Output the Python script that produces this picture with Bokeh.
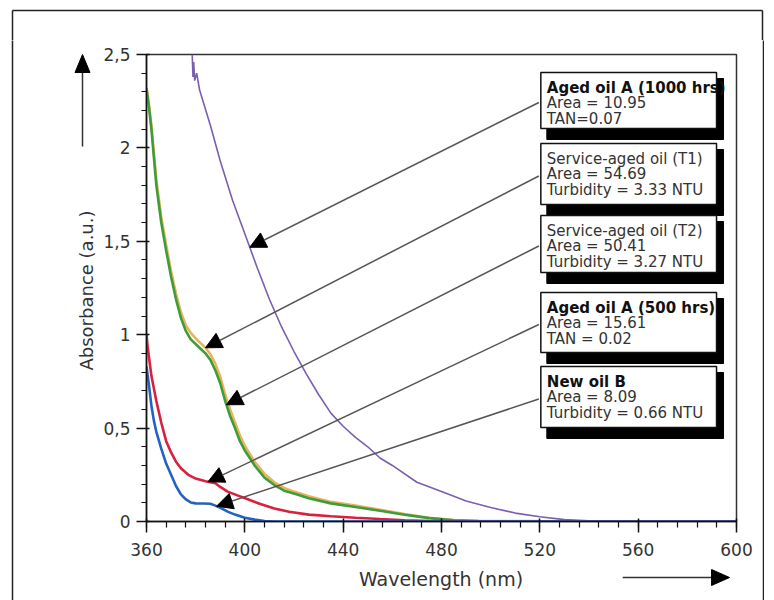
from bokeh.plotting import figure
from bokeh.layouts import row, column
from bokeh.models import FixedTicker, Arrow, NormalHead, Label, Range1d
from bokeh.embed import file_html
from bokeh.resources import INLINE
import numpy as np
import math

# ---------------- data ----------------
wl_aged_1000 = [378.6, 378.9, 379.2, 379.6, 380.4, 381.6, 383, 386, 390, 395, 400, 405, 410, 415, 420,
                425, 430, 435, 440, 445, 450, 455, 460, 470, 480, 490, 500, 510, 520, 530,
                540, 560, 580, 600]
abs_aged_1000 = [2.50, 2.38, 2.46, 2.36, 2.40, 2.31, 2.25, 2.12, 1.93, 1.72, 1.54, 1.36, 1.19, 1.04, 0.91,
                 0.79, 0.68, 0.58, 0.51, 0.45, 0.40, 0.34, 0.30, 0.21, 0.16, 0.11, 0.075, 0.045, 0.025, 0.01,
                 0.004, 0.002, 0.001, 0.0]

wl_service = [360, 361, 362, 364, 366, 368, 370, 372, 374, 376, 378, 380, 382, 384, 386, 388, 390,
              392, 394, 396, 398, 400, 404, 408, 412, 416, 420, 426, 435, 445, 455, 465, 475, 485,
              495, 520, 560, 600]
abs_service_t1 = [2.32, 2.23, 2.12, 1.83, 1.63, 1.48, 1.34, 1.22, 1.12, 1.05, 1.01, 0.98, 0.955, 0.93,
                  0.895, 0.845, 0.775, 0.68, 0.60, 0.53, 0.46, 0.405, 0.32, 0.255, 0.21, 0.18, 0.16, 0.135,
                  0.105, 0.085, 0.063, 0.04, 0.02, 0.008, 0.003, 0.002, 0.001, 0.0]
abs_service_t2 = [2.32, 2.22, 2.10, 1.80, 1.60, 1.45, 1.31, 1.19, 1.09, 1.02, 0.975, 0.95, 0.925, 0.90,
                  0.865, 0.81, 0.74, 0.645, 0.565, 0.50, 0.43, 0.38, 0.30, 0.235, 0.195, 0.165, 0.15, 0.125,
                  0.097, 0.078, 0.058, 0.036, 0.018, 0.006, 0.002, 0.001, 0.0, 0.0]

wl_aged_500 = [360, 360.5, 361, 362, 364, 366, 367, 368, 370, 372, 374, 377, 380, 384, 388, 390, 393,
               397, 401.5, 406, 412, 418, 426, 435, 445, 455, 465, 475, 485, 520, 600]
abs_aged_500 = [1.0, 0.93, 0.88, 0.78, 0.645, 0.53, 0.48, 0.43, 0.37, 0.32, 0.285, 0.25, 0.23, 0.215,
                0.205, 0.185, 0.16, 0.14, 0.118, 0.095, 0.07, 0.052, 0.037, 0.028, 0.02, 0.013, 0.007,
                0.003, 0.001, 0.0, 0.0]

wl_new_b = [360, 360.5, 361, 362, 363, 364, 366, 368, 370, 372, 374, 376, 378, 380, 383, 386, 388,
            390.5, 393, 396, 400, 404, 408, 412, 600]
abs_new_b = [0.83, 0.78, 0.73, 0.62, 0.54, 0.48, 0.39, 0.31, 0.25, 0.19, 0.145, 0.118, 0.102, 0.097,
             0.096, 0.095, 0.085, 0.07, 0.053, 0.037, 0.02, 0.01, 0.003, 0.0, 0.0]

x_ticks = [360, 400, 440, 480, 520, 560, 600]
x_tick_labels = ["360", "400", "440", "480", "520", "560", "600"]
y_ticks = [0, 0.5, 1, 1.5, 2, 2.5]
y_tick_labels = ["0", "0,5", "1", "1,5", "2", "2,5"]

x_title = "Wavelength (nm)"
y_title = "Absorbance (a.u.)"

box_title = ["Aged oil A (1000 hrs)", "Service-aged oil (T1)", "Service-aged oil (T2)",
             "Aged oil A (500 hrs)", "New oil B"]
box_line2 = ["Area = 10.95", "Area = 54.69", "Area = 50.41", "Area = 15.61", "Area = 8.09"]
box_line3 = ["TAN=0.07", "Turbidity = 3.33 NTU", "Turbidity = 3.27 NTU", "TAN = 0.02",
             "Turbidity = 0.66 NTU"]
box_bold = [True, False, False, True, True]
arrow_wl = [402, 384, 392.5, 385, 388.5]   # where each callout arrow meets its curve

# ---------------- layout (absolute page pixels) ----------------
W, H = 774, 600
LEFT_W, RIGHT_W, TOP_H, BOT_H = 100, 12, 40, 35
MID_W = W - LEFT_W - RIGHT_W          # 662
MID_H = H - TOP_H - BOT_H             # 525
FL, FR, FT, FB = 145, 736, 54, 521    # plot frame on the page
X0, X1, Y0, Y1 = 360, 600, 0, 2.5
FONT = "DejaVu Sans"
FRAME_C = "#222222"


def px2x(px):
    return X0 + (px - FL) * (X1 - X0) / (FR - FL)


def px2y(py):
    return Y1 - (py - FT) * (Y1 - Y0) / (FB - FT)


def strip(w, h, xa, xb, ya, yb):
    """Decoration canvas whose frame maps page pixels xa..xb, ya..yb (y downward)."""
    f = figure(width=w, height=h, output_backend="svg", toolbar_location=None,
               x_range=Range1d(xa, xb), y_range=Range1d(yb, ya),
               x_axis_location=None, y_axis_location=None, min_border=0)
    f.grid.visible = False
    f.outline_line_color = None
    f.background_fill_color = "white"
    f.border_fill_color = "white"
    return f


# ---------------- main plot ----------------
p = figure(width=MID_W, height=MID_H, output_backend="svg", toolbar_location=None,
           x_range=Range1d(X0, X1), y_range=Range1d(Y0, Y1),
           min_border_left=FL - LEFT_W, min_border_right=LEFT_W + MID_W - FR,
           min_border_top=FT - TOP_H, min_border_bottom=TOP_H + MID_H - FB)
p.grid.visible = False
p.outline_line_color = "#333333"
p.outline_line_width = 1.5
p.background_fill_color = "white"
p.border_fill_color = "white"

p.xaxis.ticker = FixedTicker(ticks=x_ticks, minor_ticks=[360 + 8 * i for i in range(31)])
p.xaxis.major_label_overrides = {t: l for t, l in zip(x_ticks, x_tick_labels)}
p.yaxis.ticker = FixedTicker(ticks=y_ticks, minor_ticks=[round(0.1 * i, 1) for i in range(26)])
p.yaxis.major_label_overrides = {t: l for t, l in zip(y_ticks, y_tick_labels)}

for ax in (p.xaxis[0], p.yaxis[0]):
    ax.axis_line_color = "#111111"
    ax.axis_line_width = 1.5
    ax.major_tick_line_color = "#111111"
    ax.minor_tick_line_color = "#111111"
    ax.major_tick_line_width = 1.5
    ax.minor_tick_line_width = 1.2
    ax.major_tick_in = 3
    ax.minor_tick_in = 0
    ax.major_label_text_font = FONT
    ax.major_label_text_font_size = "17px"
    ax.major_label_text_color = "#333333"

p.xaxis.major_tick_out = 11
p.xaxis.minor_tick_out = 6
p.xaxis.major_label_standoff = 10
p.yaxis.major_tick_out = 10
p.yaxis.minor_tick_out = 5
p.yaxis.major_label_standoff = 6

# curves
p.line(wl_aged_1000, abs_aged_1000, line_color="#7a5fb0", line_width=1.6)
p.line(wl_service, abs_service_t1, line_color="#e8b45a", line_width=2.6)
p.line(wl_service, abs_service_t2, line_color="#3f9c3a", line_width=2.6)
p.line(wl_aged_500, abs_aged_500, line_color="#d9203f", line_width=2.6)
p.line(wl_new_b, abs_new_b, line_color="#2461c0", line_width=2.6)

# callout boxes with arrows
box_px = [(540, 72, 716, 128), (540, 143, 716, 204), (540, 215, 716, 272),
          (540, 292, 716, 352), (540, 366, 716, 427)]
series_for_arrow = [(wl_aged_1000, abs_aged_1000), (wl_service, abs_service_t1),
                    (wl_service, abs_service_t2), (wl_aged_500, abs_aged_500), (wl_new_b, abs_new_b)]

for i, (l, t, r, b) in enumerate(box_px):
    wl_src, ab_src = series_for_arrow[i]
    tx = arrow_wl[i]
    ty = float(np.interp(tx, wl_src, ab_src))
    p.add_layout(Arrow(x_start=px2x(l - 2), y_start=px2y((t + b) / 2 + 2), x_end=tx, y_end=ty,
                       line_color="#555555", line_width=1.5,
                       end=NormalHead(size=16, fill_color="black", line_color="black")))

for i, (l, t, r, b) in enumerate(box_px):
    p.quad(left=px2x(l + 6), right=px2x(r + 7), top=px2y(t + 6), bottom=px2y(b + 11),
           fill_color="black", line_color="black")
    p.quad(left=px2x(l), right=px2x(r), top=px2y(t), bottom=px2y(b),
           fill_color="white", line_color="#111111", line_width=1.5)
    lines = [box_title[i], box_line2[i], box_line3[i]]
    for j, txt in enumerate(lines):
        bold = (j == 0 and box_bold[i])
        p.add_layout(Label(x=px2x(l + 6), y=px2y(t + 15 + 15.5 * j), text=txt,
                           text_baseline="middle", text_align="left",
                           text_font=FONT, text_font_size="15px",
                           text_font_style="bold" if bold else "normal",
                           text_color="#111111" if bold else "#333333"))

# ---------------- top strip (full width): frame top edge ----------------
top = strip(W, TOP_H, 0, W, 0, TOP_H)
top.line([12, 762], [10, 10], line_color=FRAME_C, line_width=1.5)
top.line([12, 12], [10, TOP_H + 2], line_color=FRAME_C, line_width=1.5)
top.line([762, 762], [10, TOP_H + 2], line_color=FRAME_C, line_width=1.5)

# ---------------- left strip: frame edge, y title, y arrow ----------------
left = strip(LEFT_W, H - TOP_H, 0, LEFT_W, TOP_H, H)
left.line([12, 12], [TOP_H - 2, H + 5], line_color=FRAME_C, line_width=1.5)
left.line([82, 82], [146, 68], line_color="#333333", line_width=1.5)
left.patch([82, 74.5, 89.5], [54, 72, 72], fill_color="black", line_color="black")
left.text(x=[86], y=[290], text=[y_title], angle=math.pi / 2, text_align="center",
          text_baseline="middle", text_font_size="18px", text_color="#333333",
          text_font={"value": FONT})

# ---------------- bottom strip (frame aligned with the plot frame): x title, x arrow ----------------
bot = strip(MID_W, BOT_H, FL, FR, H - BOT_H, H)
bot.text(x=[440], y=[578], text=[x_title], text_align="center",
         text_baseline="middle", text_font_size="19px", text_color="#333333",
         text_font={"value": FONT})
bot.line([622, 714], [577, 577], line_color="#333333", line_width=1.5)
bot.patch([729, 711, 711], [577, 569, 585], fill_color="black", line_color="black")

# ---------------- right strip: frame edge ----------------
right = strip(RIGHT_W, H - TOP_H, 762, 762 + RIGHT_W, TOP_H, H)
right.line([762.75, 762.75], [TOP_H - 2, H + 5], line_color=FRAME_C, line_width=1.5)

layout = column(top, row(left, column(p, bot, spacing=0), right, spacing=0), spacing=0)
open("out.html", "w").write(file_html(layout, INLINE))
